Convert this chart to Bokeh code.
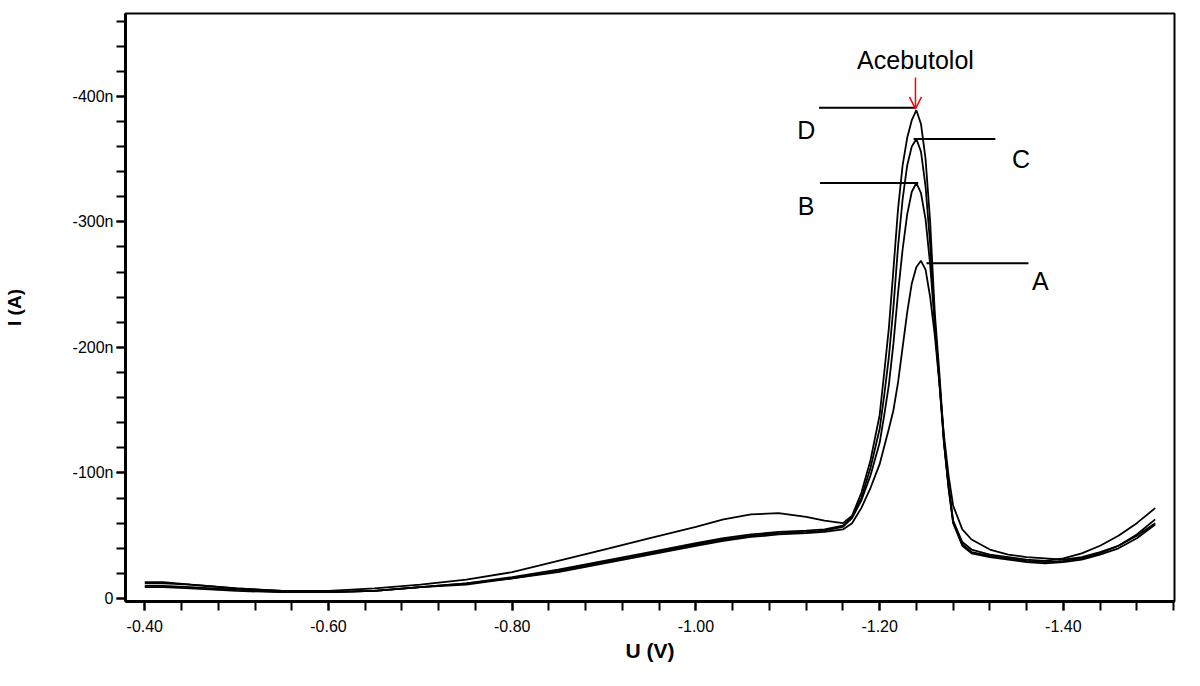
from bokeh.plotting import figure
from bokeh.models import (Range1d, SingleIntervalTicker, NumeralTickFormatter,
                          CustomJSTickFormatter, Arrow, OpenHead)
from bokeh.core.properties import value
from bokeh.embed import file_html
from bokeh.resources import INLINE

# Potential (V)
U = [-0.40, -0.42, -0.45, -0.50, -0.55, -0.60, -0.65, -0.70, -0.75, -0.80,
     -0.85, -0.90, -0.95, -1.00, -1.03, -1.06, -1.09, -1.12, -1.14, -1.16,
     -1.17, -1.18, -1.19, -1.20, -1.205, -1.21, -1.215, -1.22, -1.225, -1.23,
     -1.235, -1.24, -1.245, -1.25, -1.255, -1.26, -1.265, -1.27, -1.275, -1.28,
     -1.29, -1.30, -1.32, -1.34, -1.36, -1.38, -1.40, -1.42, -1.44, -1.46,
     -1.48, -1.50]

# Current (nA, cathodic, plotted as negative values)
curve_D = [12, 12, 11, 8, 6, 6, 8, 11, 15, 21,
           30, 39, 48, 57, 63, 67, 68, 65, 62, 60,
           66, 84, 110, 146, 180, 215, 262, 310, 345, 367,
           381, 389, 378, 350, 300, 228, 180, 126, 90, 62,
           45, 39, 35, 33, 31, 30, 32, 36, 42, 50,
           60, 72]
curve_C = [9, 9, 8, 6, 5, 5, 6, 9, 12, 17,
           23, 30, 37, 44, 48, 51, 53, 54, 55, 58,
           65, 80, 104, 135, 162, 192, 232, 280, 318, 345,
           360, 366, 356, 328, 282, 222, 174, 125, 89, 61,
           43, 37, 34, 32, 30, 29, 30, 32, 36, 42,
           51, 63]
curve_B = [10, 10, 9, 7, 5, 5, 6, 9, 12, 16,
           22, 29, 36, 43, 47, 50, 52, 53, 54, 57,
           64, 78, 98, 124, 146, 170, 203, 243, 278, 306,
           324, 331, 323, 302, 266, 218, 172, 124, 88, 60,
           42, 36, 33, 31, 29, 28, 29, 31, 35, 40,
           48, 59]
curve_A = [13, 13, 11, 8, 6, 5, 6, 9, 11, 16,
           21, 28, 35, 42, 46, 49, 51, 52, 53, 55,
           60, 72, 88, 107, 121, 135, 150, 172, 200, 228,
           251, 264, 269, 262, 240, 210, 172, 130, 98, 74,
           55, 47, 39, 35, 33, 32, 31, 33, 37, 42,
           50, 60]

# Curve labels with leader lines
label_names = ["D", "C", "B", "A"]
label_u = [-1.120, -1.354, -1.120, -1.375]
label_i = [-373, -350, -313, -253]
leader_u0 = [-1.134, -1.237, -1.135, -1.251]
leader_u1 = [-1.239, -1.326, -1.242, -1.362]
leader_i = [-391, -366, -331, -267]

# Peak annotation
peak_name = "Acebutolol"
peak_u = -1.239
peak_text_i = -429
arrow_i0 = -415
arrow_i1 = -390

FONT = "Liberation Sans"

p = figure(width=1184, height=670, output_backend="svg", toolbar_location=None,
           x_range=Range1d(-0.379, -1.521), y_range=Range1d(2.4, -466),
           min_border_left=121, min_border_right=10, min_border_top=13,
           min_border_bottom=69, background_fill_color="white",
           border_fill_color="white")
p.grid.visible = False
p.outline_line_color = "black"
p.outline_line_width = 2

for cur in [curve_A, curve_B, curve_C, curve_D]:
    p.line(U, [-v for v in cur], line_color="black", line_width=1.8)

p.segment(x0=leader_u0, y0=leader_i, x1=leader_u1, y1=leader_i,
          line_color="black", line_width=2)
p.text(x=label_u, y=label_i, text=label_names, text_font=value(FONT),
       text_font_size="25px", text_align="center", text_baseline="middle",
       text_color="black")
p.text(x=[peak_u], y=[peak_text_i], text=[peak_name], text_font=value(FONT),
       text_font_size="25px", text_align="center", text_baseline="middle",
       text_color="black")
p.add_layout(Arrow(end=OpenHead(size=12, line_color="red", line_width=1.5),
                   x_start=peak_u, y_start=arrow_i0, x_end=peak_u, y_end=arrow_i1,
                   line_color="red", line_width=1.5))

# Axes
p.xaxis.ticker = SingleIntervalTicker(interval=0.2, num_minor_ticks=5)
p.yaxis.ticker = SingleIntervalTicker(interval=100, num_minor_ticks=5)
p.xaxis.formatter = NumeralTickFormatter(format="0.00")
p.yaxis.formatter = CustomJSTickFormatter(
    code="return Math.abs(tick) < 1e-9 ? '0' : tick.toFixed(0) + 'n';")
p.xaxis.axis_label = "U (V)"
p.yaxis.axis_label = "I (A)"
for ax in [p.xaxis[0], p.yaxis[0]]:
    ax.axis_line_color = "black"
    ax.axis_line_width = 3
    ax.major_tick_line_color = "black"
    ax.minor_tick_line_color = "black"
    ax.major_tick_line_width = 2
    ax.minor_tick_line_width = 2
    ax.major_tick_out = 9
    ax.major_tick_in = 0
    ax.minor_tick_out = 9
    ax.minor_tick_in = 0
    ax.major_label_text_font = FONT
    ax.major_label_text_font_size = "16px"
    ax.major_label_text_color = "black"
    ax.axis_label_text_font = FONT
    ax.axis_label_text_font_style = "bold"
    ax.axis_label_text_color = "black"
p.xaxis.major_label_standoff = 9
p.xaxis.axis_label_text_font_size = "21px"
p.xaxis.axis_label_standoff = 4
p.yaxis.major_label_standoff = 3
p.yaxis.major_label_text_baseline = "bottom"
p.yaxis.axis_label_text_font_size = "19px"
p.yaxis.axis_label_standoff = 45

open("out.html", "w").write(file_html(p, INLINE))
